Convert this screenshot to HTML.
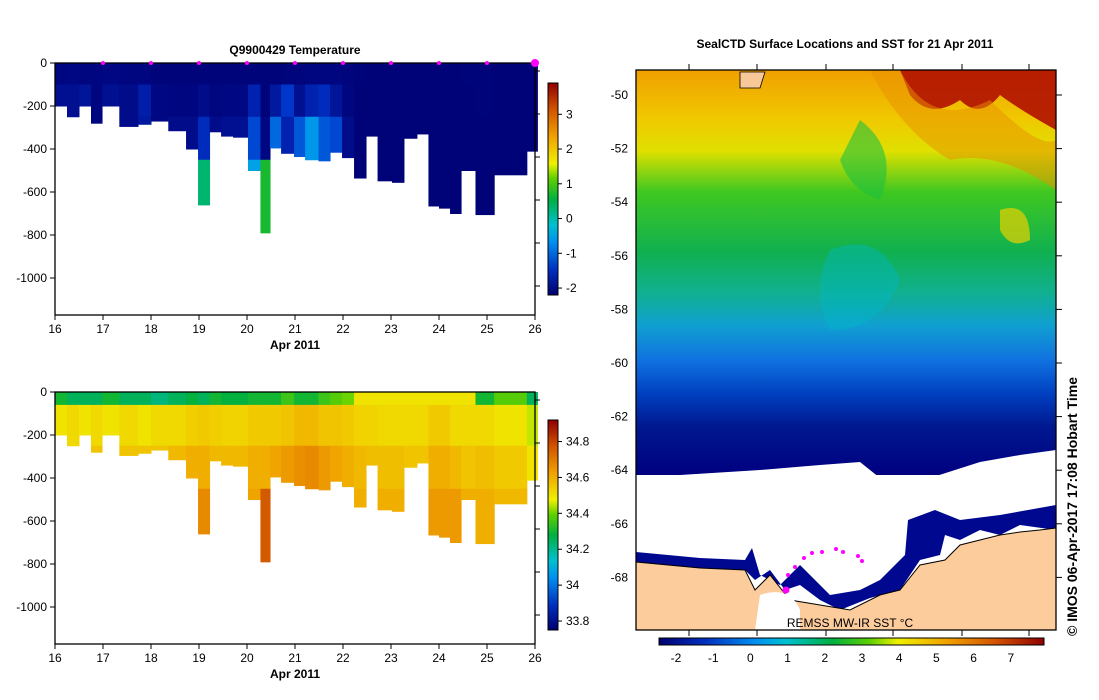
<!DOCTYPE html>
<html><head><meta charset="utf-8"><style>
body{margin:0;background:#fff;}
svg{display:block;font-family:"Liberation Sans",sans-serif;}
text{fill:#000;}
</style></head><body>
<svg id="s" width="1099" height="700" viewBox="0 0 1099 700">
<defs>
<linearGradient id="sstv" x1="0" y1="0" x2="0" y2="1">
<stop offset="0" stop-color="#f0a000"/><stop offset="0.12" stop-color="#f0c800"/>
<stop offset="0.2" stop-color="#e0e000"/><stop offset="0.3" stop-color="#40c820"/>
<stop offset="0.45" stop-color="#10b050"/><stop offset="0.55" stop-color="#10b090"/>
<stop offset="0.63" stop-color="#10a0d0"/><stop offset="0.72" stop-color="#1070e0"/>
<stop offset="0.8" stop-color="#0040c0"/><stop offset="0.88" stop-color="#001890"/>
<stop offset="1" stop-color="#000080"/></linearGradient>
<linearGradient id="cbh" x1="0" y1="0" x2="1" y2="0">
<stop offset="0" stop-color="#000070"/><stop offset="0.12" stop-color="#0030c0"/>
<stop offset="0.25" stop-color="#0090f0"/><stop offset="0.33" stop-color="#00c0d0"/>
<stop offset="0.45" stop-color="#00b040"/><stop offset="0.55" stop-color="#60d000"/>
<stop offset="0.62" stop-color="#f0f000"/><stop offset="0.75" stop-color="#f0a000"/>
<stop offset="0.88" stop-color="#d05000"/><stop offset="1" stop-color="#900000"/></linearGradient>
<linearGradient id="cbv" x1="0" y1="1" x2="0" y2="0">
<stop offset="0" stop-color="#000070"/><stop offset="0.12" stop-color="#0030c0"/>
<stop offset="0.25" stop-color="#0090f0"/><stop offset="0.33" stop-color="#00c0d0"/>
<stop offset="0.45" stop-color="#00b040"/><stop offset="0.55" stop-color="#60d000"/>
<stop offset="0.62" stop-color="#f0f000"/><stop offset="0.75" stop-color="#f0a000"/>
<stop offset="0.88" stop-color="#d05000"/><stop offset="1" stop-color="#900000"/></linearGradient>
</defs>
<g id="topsec"></g>
<g id="botsec"></g>
<g id="map"></g>
</svg>
<script>
// Profile columns: left edges (days in Apr 2011), max depth (m)
const colStart=[16,16.25,16.5,16.75,16.98,17.34,17.73,18.0,18.36,18.73,18.98,19.22,19.46,19.71,20.02,20.28,20.48,20.71,20.98,21.21,21.49,21.73,21.98,22.23,22.48,22.72,23.02,23.27,23.54,23.78,24.0,24.23,24.46,24.76,25.15,25.83];
const colEnd=26.05;
const colDepth=[200,250,200,280,200,295,285,270,315,400,660,320,340,345,500,790,395,420,435,450,455,415,440,535,340,548,555,350,330,665,675,700,500,705,520,410];
// depth layer boundaries (m)
const layerTop=[0,100,250,450];
// temperature per column per layer (°C)
const temp0=[-1.75,-1.7,-1.75,-1.75,-1.7,-1.75,-1.75,-1.85,-1.85,-1.85,-1.85,-1.85,-1.85,-1.85,-1.85,-1.9,-1.85,-1.8,-1.8,-1.75,-1.75,-1.75,-1.8,-1.9,-1.95,-1.95,-1.95,-1.95,-1.95,-1.95,-1.95,-1.95,-1.9,-1.9,-1.95,-1.95];
const temp1=[-1.6,-1.6,-1.55,-1.75,-1.6,-1.65,-1.45,-1.7,-1.75,-1.75,-1.65,-1.75,-1.7,-1.7,-1.4,-1.85,-1.5,-1.2,-1.6,-1.4,-1.3,-1.55,-1.75,-1.95,-1.95,-1.95,-1.95,-1.95,-1.95,-1.95,-1.95,-1.95,-1.95,-1.9,-1.95,-1.95];
const temp2=[-1.65,-1.65,-1.65,-1.75,-1.65,-1.65,-1.5,-1.7,-1.65,-1.65,-1.3,-1.65,-1.6,-1.6,-1.1,-1.7,-0.9,-1.4,-1.0,-0.6,-1.0,-1.1,-1.65,-1.95,-1.95,-1.95,-1.95,-1.95,-1.95,-1.95,-1.95,-1.95,-1.95,-1.95,-1.95,-1.95];
const temp3=[-1.65,-1.65,-1.65,-1.75,-1.65,-1.65,-1.5,-1.7,-1.65,-1.65,0.3,-1.65,-1.6,-1.6,-0.5,0.7,-0.9,-1.4,-1.0,-0.6,-1.0,-1.1,-1.65,-1.95,-1.95,-1.95,-1.95,-1.95,-1.95,-1.95,-1.95,-1.95,-1.95,-1.95,-1.95,-1.95];
// salinity per column per layer (psu), layer tops 0,60,250,450
const salTop=[0,60,250,450];
const sal0=[34.3,34.25,34.25,34.25,34.3,34.25,34.25,34.22,34.25,34.28,34.25,34.3,34.28,34.28,34.3,34.3,34.3,34.35,34.3,34.3,34.35,34.38,34.4,34.5,34.5,34.5,34.5,34.5,34.5,34.5,34.5,34.5,34.5,34.3,34.38,34.25];
const sal1=[34.5,34.52,34.5,34.52,34.5,34.52,34.5,34.52,34.52,34.54,34.55,34.54,34.53,34.53,34.55,34.55,34.55,34.56,34.58,34.58,34.56,34.56,34.55,34.53,34.53,34.52,34.52,34.52,34.52,34.55,34.55,34.52,34.52,34.52,34.5,34.45];
const sal2=[34.55,34.56,34.55,34.56,34.55,34.56,34.56,34.56,34.58,34.6,34.6,34.58,34.58,34.58,34.6,34.6,34.62,34.64,34.66,34.67,34.64,34.62,34.6,34.58,34.57,34.57,34.57,34.56,34.56,34.6,34.6,34.58,34.56,34.57,34.55,34.5];
const sal3=[34.55,34.56,34.55,34.56,34.55,34.56,34.56,34.56,34.58,34.6,34.67,34.58,34.58,34.58,34.62,34.76,34.62,34.64,34.66,34.67,34.64,34.62,34.6,34.6,34.57,34.6,34.6,34.56,34.56,34.64,34.64,34.64,34.6,34.6,34.58,34.5];
const dayTicks=[16,17,18,19,20,21,22,23,24,25,26];
const depthTicks=[0,-200,-400,-600,-800,-1000];
const tempCbTicks=[3,2,1,0,-1,-2];
const salCbTicks=[34.8,34.6,34.4,34.2,34,33.8];
const latTicks=[-50,-52,-54,-56,-58,-60,-62,-64,-66,-68];
const sstCTicks=[-2,-1,0,1,2,3,4,5,6,7];
const sstFTicks=[65,70,75,80,85,90];

const NS='http://www.w3.org/2000/svg';
function mk(p,t,a,txt){const e=document.createElementNS(NS,t);for(const k in a)e.setAttribute(k,a[k]);if(txt!==undefined)e.textContent=txt;p.appendChild(e);return e;}
const stops=[[0,[0,0,112]],[0.08,[0,6,128]],[0.16,[0,50,200]],[0.25,[0,144,240]],[0.33,[0,192,208]],[0.45,[0,176,64]],[0.55,[96,208,0]],[0.62,[240,240,0]],[0.75,[240,160,0]],[0.88,[208,80,0]],[1,[144,0,0]]];
function cmap(f){f=Math.max(0,Math.min(1,f));for(let i=1;i<stops.length;i++){if(f<=stops[i][0]){const a=stops[i-1],b=stops[i],t=(f-a[0])/(b[0]-a[0]);return 'rgb('+a[1].map((v,j)=>Math.round(v+(b[1][j]-v)*t)).join(',')+')';}}return 'rgb(144,0,0)';}

function section(g,y0,vals,tops,vmin,vmax,cbTicks,title,cbTop,cbBot){
  const x0=55,x1=535,yb=y0+252;
  const xs=d=>x0+(d-16)*48, ys=m=>y0+m*0.215;
  for(let i=0;i<colStart.length;i++){
    const xa=xs(colStart[i]), xb=xs(i+1<colStart.length?colStart[i+1]:colEnd);
    for(let l=0;l<tops.length;l++){
      const tp=tops[l], bt=l+1<tops.length?tops[l+1]:colDepth[i];
      if(tp>=colDepth[i])break;
      const b=Math.min(bt,colDepth[i]);
      const r=mk(g,'rect',{x:xa,y:ys(tp),width:xb-xa+0.5,height:ys(b)-ys(tp)+0.5,fill:cmap((vals[l][i]-vmin)/(vmax-vmin))});
      
      
    }
  }
  mk(g,'rect',{x:x0,y:y0,width:x1-x0,height:yb-y0,fill:'none',stroke:'#000','stroke-width':1.3,});
  dayTicks.forEach(d=>{mk(g,'line',{x1:xs(d),x2:xs(d),y1:yb,y2:yb+5,stroke:'#000'});
    const t=mk(g,'text',{x:xs(d),y:yb+18,'font-size':12,'text-anchor':'middle'},d);});
  mk(g,'text',{x:295,y:yb+34,'font-size':12,'font-weight':'bold','text-anchor':'middle',},'Apr 2011');
  depthTicks.forEach(m=>{const y=ys(-m);mk(g,'line',{x1:x0-5,x2:x0,y1:y,y2:y,stroke:'#000'});
    const t=mk(g,'text',{x:x0-8,y:y+4,'font-size':12,'text-anchor':'end'},m);});
  if(title)mk(g,'text',{x:295,y:y0-9,'font-size':12,'font-weight':'bold','text-anchor':'middle',},title);
  mk(g,'rect',{x:548,y:cbTop,width:10,height:cbBot-cbTop,fill:'url(#cbv)',stroke:'#000',});
  const cy=v=>cbBot-(v-vmin)/(vmax-vmin)*(cbBot-cbTop);
  cbTicks.forEach(v=>{const y=cy(v);mk(g,'line',{x1:558,x2:562,y1:y,y2:y,stroke:'#000'});
    const t=mk(g,'text',{x:566,y:y+4,'font-size':12},String(v));});
  for(let k=0;k<6;k++){const y=y0+8+k*43;mk(g,'line',{x1:535,x2:540,y1:y,y2:y,stroke:'#000'});}
}
const gTop=document.getElementById('topsec'),gBot=document.getElementById('botsec');
section(gTop,63,[temp0,temp1,temp2,temp3],layerTop,-2.2,3.9,tempCbTicks,'Q9900429  Temperature',83,295);
[17,18,19,20,21,22,23,24,25].forEach(d=>{const c=mk(gTop,'circle',{cx:55+(d-16)*48,cy:63,r:2,fill:'#ff00ff'});});
mk(gTop,'circle',{cx:535,cy:63,r:4,fill:'#ff00ff',});
section(gBot,392,[sal0,sal1,sal2,sal3],salTop,33.75,34.92,salCbTicks,null,420,630);

const map=document.getElementById('map');
const mx0=636,mx1=1056,my0=70,my1=630;
const ly=l=>95+(-50-l)*26.8;
mk(map,'text',{x:845,y:48,'font-size':12,'font-weight':'bold','text-anchor':'middle',},'SealCTD Surface Locations and SST for 21 Apr 2011');
mk(map,'rect',{x:mx0,y:my0,width:mx1-mx0,height:475-my0,fill:'url(#sstv)',});
mk(map,'path',{d:'M900 70 L1056 70 L1056 130 Q1020 110 1000 95 Q980 120 960 100 Q930 120 910 95 Z',fill:'#b01000',opacity:0.9,});
mk(map,'path',{d:'M870 70 L900 70 Q930 130 990 100 Q1040 150 1056 140 L1056 190 Q1000 150 950 160 Q900 130 870 70 Z',fill:'#e89000',opacity:0.5,});
mk(map,'path',{d:'M860 120 Q900 150 880 200 Q850 190 840 160 Z',fill:'#20c040',opacity:0.6,});
mk(map,'path',{d:'M830 250 Q880 230 900 280 Q880 330 830 330 Q810 290 830 250 Z',fill:'#00b8c8',opacity:0.4,});
mk(map,'path',{d:'M1000 210 Q1030 200 1030 240 Q1010 250 1000 230 Z',fill:'#e8d000',opacity:0.7,});
mk(map,'path',{d:'M740 72 L765 72 L760 88 L740 88 Z',fill:'#f8c898',stroke:'#000','stroke-width':0.8,});
mk(map,'path',{d:'M636 484 L680 475 L760 470 L820 465 L860 462 L880 478 L930 478 L980 462 L1020 455 L1056 450 L1056 520 L1020 525 L990 518 L960 522 L930 510 L910 520 L905 560 L880 585 L850 600 L820 590 L800 570 L780 590 L760 580 L750 560 L700 565 L636 552 Z',fill:'#fff',});
mk(map,'path',{d:'M636 552 L700 558 L745 560 L752 548 L760 575 L780 585 L800 565 L830 595 L860 590 L880 580 L905 555 L908 520 L935 510 L960 520 L1000 515 L1056 505 L1056 530 L1020 525 L1000 535 L980 530 L960 540 L945 535 L940 555 L920 560 L900 590 L870 598 L840 610 L820 600 L800 585 L785 590 L770 570 L755 580 L745 570 L700 568 L636 562 Z',fill:'#000890',});
mk(map,'path',{d:'M636 562 L700 568 L745 570 L755 590 L770 575 L790 600 L820 605 L850 610 L880 595 L900 590 L920 565 L945 560 L960 545 L1000 535 L1020 532 L1040 530 L1056 528 L1056 630 L636 630 Z',fill:'#fccc9c',stroke:'#000','stroke-width':1,});
mk(map,'path',{d:'M760 595 Q790 585 800 610 L800 630 L755 630 Z',fill:'#fff',});
[[788,575],[795,567],[804,558],[812,553],[822,552],[836,549],[843,552],[858,556],[862,561]].forEach(p=>{const c=mk(map,'circle',{cx:p[0],cy:p[1],r:2,fill:'#ff00ff'});});
mk(map,'circle',{cx:786,cy:590,r:3.5,fill:'#ff00ff',});
mk(map,'rect',{x:mx0,y:my0,width:mx1-mx0,height:my1-my0,fill:'none',stroke:'#000','stroke-width':1.3,});
latTicks.forEach(l=>{const y=ly(l);mk(map,'line',{x1:mx1,x2:mx1+6,y1:y,y2:y,stroke:'#000'});
  const t=mk(map,'text',{x:628,y:y+4,'font-size':12,'text-anchor':'end'},l);});
[689,757,826,893,962,1029].forEach(x=>{mk(map,'line',{x1:x,x2:x,y1:my0-6,y2:my0,stroke:'#000'});mk(map,'line',{x1:x,x2:x,y1:my1,y2:my1+6,stroke:'#000'});});
mk(map,'text',{x:850,y:627,'font-size':12,'text-anchor':'middle',},'REMSS MW-IR SST °C');
mk(map,'rect',{x:659,y:638,width:385,height:7,fill:'url(#cbh)',stroke:'#000',});
const cx=v=>676+(v+2)*37.2;
sstCTicks.forEach(v=>{const t=mk(map,'text',{x:cx(v),y:662,'font-size':12,'text-anchor':'middle'},v);});
sstFTicks.forEach(f=>{const t=mk(map,'text',{x:cx((f-32)/1.8),y:652,'font-size':11,'text-anchor':'middle',fill:'#333'},f);});
mk(map,'text',{x:1077,y:636,'font-size':14,'font-weight':'bold',transform:'rotate(-90 1077 636)',},'©  IMOS 06-Apr-2017 17:08 Hobart Time');
</script>
</body></html>
